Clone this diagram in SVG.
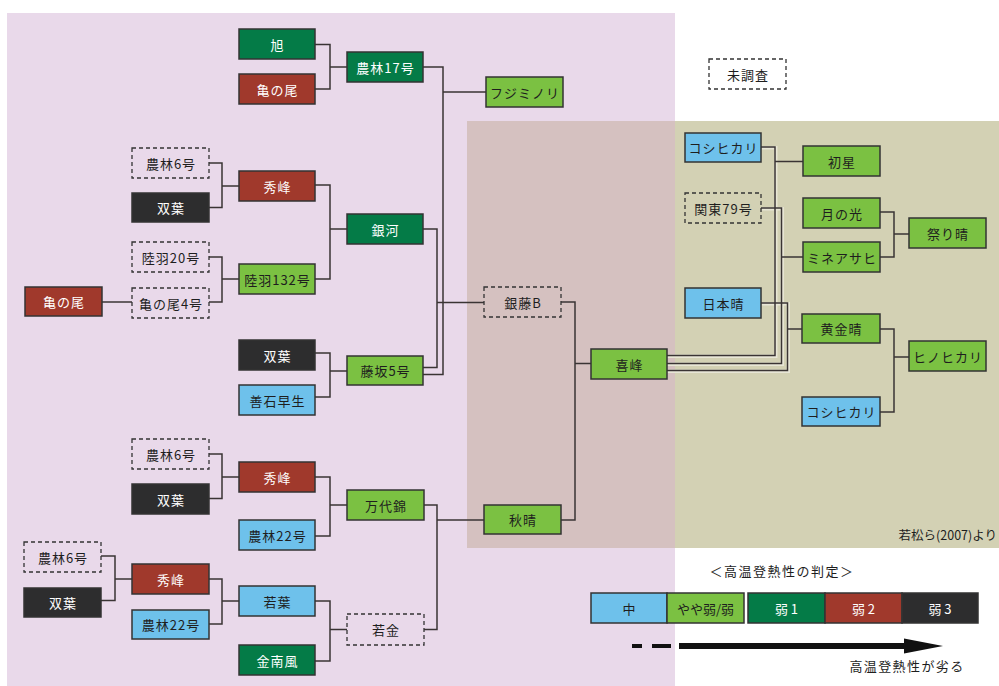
<svg xmlns="http://www.w3.org/2000/svg" width="999" height="686" viewBox="0 0 999 686">
<style>
rect.n{stroke:#333;stroke-width:1.5}
.dg{fill:#047b47}
.rd{fill:#a0392c}
.bk{fill:#2d2d2e}
.sk{fill:#6ec1eb}
.lg{fill:#7bc142}
.ds{fill:none;stroke:#333;stroke-width:1.3;stroke-dasharray:4 3}
text{font-family:"Noto Sans CJK JP","Noto Sans",sans-serif;font-size:13px;text-anchor:middle;dominant-baseline:central;fill:#1e1e1e}
g[id^="n"] text{letter-spacing:1px}
text.w{fill:#ffffff}
.c path{fill:none;stroke:#3a3434;stroke-width:1.5}
.c path.h{stroke:#e8e6d6;stroke-width:3.5}
</style>
<rect x="0" y="0" width="999" height="686" fill="#ffffff"/>
<rect x="7" y="13" width="668" height="673" fill="#e9d9ea"/>
<rect x="675" y="121" width="324" height="427" fill="#d3d1b4"/>
<rect x="467" y="121" width="208" height="427" fill="#d5c1c0"/>

<g class="c" id="connectors">
<path d="M315,44.5H330V89H315M330,67H347"/>
<path d="M423,67H443V374.5H423M443,92H486"/>
<path d="M209,163H222V207.5H209M222,186H239"/>
<path d="M315,185H330V279H315M330,229H347"/>
<path d="M209,257H222V302H209M222,279H239"/>
<path d="M102,302H132"/>
<path d="M315,353H330V397H315M330,371H347"/>
<path d="M423,229H437V367.5H423M437,302.5H484"/>
<path d="M561,302H575V520H561M575,363.5H591"/>
<path d="M209,454H222V498.5H209M222,477H239"/>
<path d="M315,477H330V536H315M330,505H347"/>
<path d="M424,505H437V629.5H424M437,520H484"/>
<path d="M101,556H115V600.5H101M115,579H132"/>
<path d="M209,579H222V624H209M222,601H239"/>
<path d="M315,601H330V661H315M330,629.5H347"/>
<path class="h" d="M762,147.7H775.7V356.2H667M762,208.7H782.2V364.2H667M762,303.7H788.2V371.2H667"/>
<path d="M761,147H775V355.5H667M775,161.5H803"/>
<path d="M761,208H781.5V363.5H667M781.5,257H803"/>
<path d="M761,303H787.5V370.5H667M787.5,329H802"/>
<path d="M880,212H894V257H880M894,234H909"/>
<path d="M880,329H894V412H880M894,357H909"/>
</g>

<g id="n01"><rect class="n dg" x="239" y="29" width="76" height="30"/><text class="w" x="277.5" y="44">旭</text></g>
<g id="n02"><rect class="n rd" x="239" y="74" width="76" height="30"/><text class="w" x="277.5" y="89">亀の尾</text></g>
<g id="n03"><rect class="n dg" x="347" y="52" width="76" height="30"/><text class="w" x="385.5" y="67">農林17号</text></g>
<g id="n04"><rect class="n lg" x="486" y="77" width="77" height="30"/><text x="525" y="92">フジミノリ</text></g>
<g id="n05"><rect class="ds" x="132" y="148" width="77" height="30"/><text x="171" y="163">農林6号</text></g>
<g id="n06"><rect class="n bk" x="132" y="193" width="77" height="29"/><text class="w" x="171" y="207.5">双葉</text></g>
<g id="n07"><rect class="n rd" x="239" y="171" width="76" height="30"/><text class="w" x="277.5" y="186">秀峰</text></g>
<g id="n08"><rect class="n dg" x="347" y="214" width="76" height="30"/><text class="w" x="385.5" y="229">銀河</text></g>
<g id="n09"><rect class="ds" x="132" y="242" width="77" height="30"/><text x="171" y="257">陸羽20号</text></g>
<g id="n10"><rect class="ds" x="132" y="288" width="77" height="30"/><text x="171" y="303">亀の尾4号</text></g>
<g id="n11"><rect class="n rd" x="25" y="287" width="77" height="29"/><text class="w" x="64" y="301.5">亀の尾</text></g>
<g id="n12"><rect class="n lg" x="239" y="264" width="76" height="30"/><text x="277.5" y="279">陸羽132号</text></g>
<g id="n13"><rect class="n bk" x="239" y="340" width="76" height="30"/><text class="w" x="277.5" y="355">双葉</text></g>
<g id="n14"><rect class="n sk" x="239" y="385" width="76" height="30"/><text x="277.5" y="400">善石早生</text></g>
<g id="n15"><rect class="n lg" x="347" y="356" width="76" height="29"/><text x="385.5" y="370.5">藤坂5号</text></g>
<g id="n16"><rect class="ds" x="484" y="287" width="77" height="30"/><text x="523" y="302">銀藤B</text></g>
<g id="n17"><rect class="ds" x="132" y="439" width="77" height="30"/><text x="171" y="454">農林6号</text></g>
<g id="n18"><rect class="n bk" x="132" y="484" width="77" height="30"/><text class="w" x="171" y="499">双葉</text></g>
<g id="n19"><rect class="n rd" x="239" y="462" width="76" height="30"/><text class="w" x="277.5" y="477">秀峰</text></g>
<g id="n20"><rect class="n sk" x="239" y="520" width="76" height="30"/><text x="277.5" y="535">農林22号</text></g>
<g id="n21"><rect class="n lg" x="347" y="490" width="77" height="30"/><text x="386" y="505">万代錦</text></g>
<g id="n22"><rect class="n lg" x="484" y="505" width="77" height="29"/><text x="523" y="519.5">秋晴</text></g>
<g id="n23"><rect class="ds" x="24" y="542" width="77" height="30"/><text x="63" y="557">農林6号</text></g>
<g id="n24"><rect class="n bk" x="24" y="588" width="77" height="29"/><text class="w" x="63" y="602.5">双葉</text></g>
<g id="n25"><rect class="n rd" x="132" y="564" width="77" height="30"/><text class="w" x="171" y="579">秀峰</text></g>
<g id="n26"><rect class="n sk" x="132" y="610" width="77" height="29"/><text x="171" y="624.5">農林22号</text></g>
<g id="n27"><rect class="n sk" x="239" y="586" width="76" height="30"/><text x="277.5" y="601">若葉</text></g>
<g id="n28"><rect class="n dg" x="239" y="645" width="76" height="30"/><text class="w" x="277.5" y="660">金南風</text></g>
<g id="n29"><rect class="ds" x="347" y="614" width="77" height="31"/><text x="386" y="629.5">若金</text></g>
<g id="n30"><rect class="n lg" x="591" y="349" width="76" height="30"/><text x="629.5" y="364">喜峰</text></g>
<g id="n31"><rect class="ds" x="709" y="59" width="77" height="30"/><text x="748" y="74">未調査</text></g>
<g id="n32"><rect class="n sk" x="685" y="133" width="76" height="29"/><text x="723.5" y="147.5">コシヒカリ</text></g>
<g id="n33"><rect class="ds" x="685" y="193" width="76" height="30"/><text x="723.5" y="208">関東79号</text></g>
<g id="n34"><rect class="n sk" x="685" y="288" width="76" height="30"/><text x="723.5" y="303">日本晴</text></g>
<g id="n35"><rect class="n lg" x="803" y="146" width="77" height="30"/><text x="842" y="161">初星</text></g>
<g id="n36"><rect class="n lg" x="803" y="198" width="77" height="30"/><text x="842" y="213">月の光</text></g>
<g id="n37"><rect class="n lg" x="803" y="242" width="77" height="30"/><text x="842" y="257">ミネアサヒ</text></g>
<g id="n38"><rect class="n lg" x="802" y="314" width="78" height="29"/><text x="841.5" y="328.5">黄金晴</text></g>
<g id="n39"><rect class="n sk" x="802" y="397" width="78" height="29"/><text x="841.5" y="411.5">コシヒカリ</text></g>
<g id="n40"><rect class="n lg" x="909" y="218" width="77" height="30"/><text x="948" y="233">祭り晴</text></g>
<g id="n41"><rect class="n lg" x="909" y="341" width="77" height="30"/><text x="948" y="356">ヒノヒカリ</text></g>

<text x="997" y="534" style="text-anchor:end;font-size:12.5px">若松ら(2007)より</text>

<g id="legend">
<text x="782" y="570" style="letter-spacing:1.5px">＜高温登熱性の判定＞</text>
<rect class="n sk" x="591" y="593" width="76" height="30"/><text x="629" y="608">中</text>
<rect class="n lg" x="667" y="593" width="77" height="30"/><text x="705.5" y="608">やや弱/弱</text>
<rect class="n dg" x="748" y="593" width="77" height="30"/><text class="w" x="786.5" y="608">弱 1</text>
<rect class="n rd" x="825" y="593" width="77" height="30"/><text class="w" x="863.5" y="608">弱 2</text>
<rect class="n bk" x="902" y="593" width="76" height="30"/><text class="w" x="940" y="608">弱 3</text>
<path d="M632,646H642M652,646H671" stroke="#111" stroke-width="4" fill="none"/>
<path d="M679,646H908" stroke="#111" stroke-width="6" fill="none"/>
<path d="M904,638.5L943,646L904,653.5Z" fill="#111"/>
<text x="907" y="665" style="letter-spacing:1.4px">高温登熱性が劣る</text>
</g>
</svg>
